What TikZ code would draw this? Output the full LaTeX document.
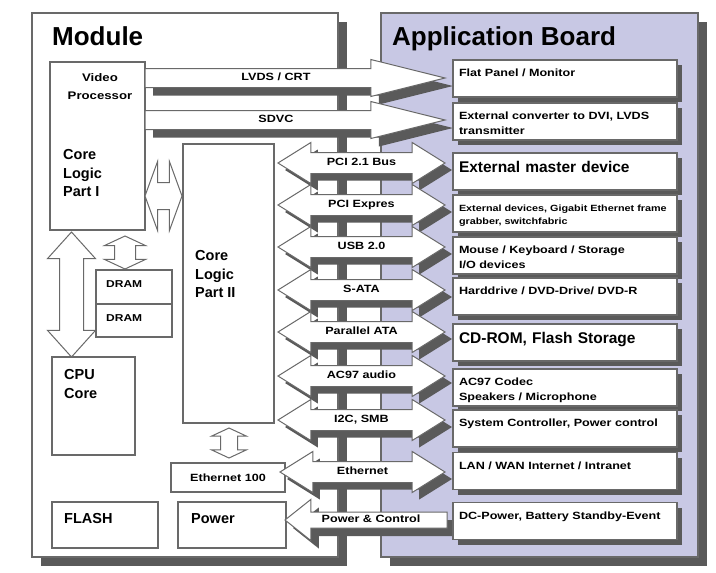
\documentclass[tikz,border=0pt]{standalone}
\usepackage{fontspec}
\setmainfont{Liberation Sans}
\newfontfamily\widesans[FakeStretch=1.2]{Liberation Sans}
\usetikzlibrary{shapes.arrows,shadows}

\definecolor{boxline}{RGB}{105,105,105}
\definecolor{shade}{RGB}{90,90,90}
\definecolor{board}{RGB}{200,200,228}

\tikzset{
  box/.style={draw=boxline, line width=1.5pt, fill=white, inner sep=0pt, outer sep=0pt},
  shadowed/.style={drop shadow={shadow xshift=#1, shadow yshift=-#1, fill=shade, opacity=1}},
  shadowed/.default=6pt,
  title/.style={font=\bfseries\fontsize{26}{30}\selectfont, inner sep=0pt},
  biglbl/.style={font=\bfseries\fontsize{14.5}{18.5}\selectfont, align=left, inner sep=0pt},
  smalllbl/.style={font=\widesans\bfseries\fontsize{10.5}{15}\selectfont},
  appbox/.style={box, shadowed=5pt, minimum width=224pt, text width=212pt, align=left,
    inner xsep=6pt, inner ysep=4.5pt, text height=12pt, text depth=16pt, smalllbl},
  bigapp/.style={appbox, font=\bfseries\fontsize{15.5}{18}\selectfont, text height=14.5pt, text depth=13.5pt},
  link/.style={double arrow, draw=boxline, line width=1pt, fill=white, inner sep=0pt, outer sep=0pt},
  bus/.style={double arrow, draw=boxline, line width=1pt, fill=white, outer sep=0pt,
    inner xsep=2pt, inner ysep=5pt, text height=7.5pt, text depth=2.5pt,
    double arrow head extend=10pt, double arrow tip angle=64, minimum height=167pt,
    smalllbl, shadowed=7pt},
  vid/.style={single arrow, draw=boxline, line width=1pt, fill=white, outer sep=0pt,
    inner xsep=2pt, inner ysep=4pt, text height=7.5pt, text depth=2.5pt,
    single arrow head extend=9pt, single arrow tip angle=28, minimum height=300pt,
    smalllbl, shadowed=8pt}
}

\begin{document}
\begin{tikzpicture}[x=1pt, y=-1pt]
\useasboundingbox (0,0) rectangle (716,573);

% module and application board
\node[box, shadowed=9pt, minimum width=306pt, minimum height=544pt] (module) at (185,285) {};
\node[box, fill=board, shadowed=9pt, minimum width=317pt, minimum height=544pt] (board) at (539.5,285) {};
\node[title, anchor=base west] (modtitle) at (52,45) {Module};
\node[title, anchor=base west] (boardtitle) at (392,45) {Application Board};

% blocks on the module
\node[box, minimum width=95pt, minimum height=168pt] (cl1) at (97.5,146) {};
\node[smalllbl, font=\widesans\bfseries\fontsize{11}{18}\selectfont, align=center, inner sep=0pt, anchor=north] (vp) at (100,73.5) {Video\\Processor};
\node[biglbl, anchor=north west] (cl1lbl) at (63,149.5) {Core\\Logic\\Part I};

\node[box, minimum width=91pt, minimum height=279pt] (cl2) at (228.5,283.5) {};
\node[biglbl, anchor=north west] (cl2lbl) at (195,250.5) {Core\\Logic\\Part II};

\node[box, minimum width=76pt, minimum height=34pt] (dram1) at (134,287) {};
\node[box, minimum width=76pt, minimum height=33pt] (dram2) at (134,320.5) {};
\node[smalllbl, font=\widesans\bfseries\fontsize{10}{12}\selectfont, anchor=west, inner sep=0pt] (dram1lbl) at (106,284) {DRAM};
\node[smalllbl, font=\widesans\bfseries\fontsize{10}{12}\selectfont, anchor=west, inner sep=0pt] (dram2lbl) at (106,318) {DRAM};

\node[box, minimum width=83pt, minimum height=98pt] (cpu) at (93.5,406) {};
\node[biglbl, anchor=north west] (cpulbl) at (64,369.5) {CPU\\Core};

\node[box, minimum width=114pt, minimum height=29pt, smalllbl] (eth) at (228,477.5) {Ethernet 100};

\node[box, minimum width=106pt, minimum height=46pt] (flash) at (105,525) {};
\node[biglbl, anchor=base west] (flashlbl) at (64,523) {FLASH};
\node[box, minimum width=108pt, minimum height=46pt] (power) at (232,525) {};
\node[biglbl, anchor=base west] (powerlbl) at (191,523) {Power};

% links inside the module
\node[link, rotate=90, minimum height=125pt, inner ysep=11.5pt, double arrow head extend=12pt, double arrow tip angle=84] (cpulink) at (71.5,294.5) {};
\node[link, rotate=90, minimum height=33pt, inner ysep=10pt, double arrow head extend=10pt, double arrow tip angle=130] (dramlink) at (125,252.5) {};
\node[link, minimum height=37pt, inner ysep=13pt, double arrow head extend=21pt, double arrow tip angle=140] (cllink) at (163.5,196) {};
\node[link, rotate=90, minimum height=30pt, inner ysep=8pt, double arrow head extend=9pt, double arrow tip angle=130] (ethlink) at (229,443) {};

% video outputs
\node[vid, anchor=tail] (lvds) at (145,78) {LVDS / CRT};
\node[vid, anchor=tail] (sdvc) at (145,120) {SDVC};

% buses
\node[bus] (pci) at (361.5,163) {PCI 2.1 Bus};
\node[bus] (pcie) at (361.5,205) {PCI Expres};
\node[bus] (usb) at (361.5,247) {USB 2.0};
\node[bus] (sata) at (361.5,290) {S-ATA};
\node[bus] (pata) at (361.5,332) {Parallel ATA};
\node[bus] (ac97) at (361.5,376) {AC97 audio};
\node[bus] (i2c) at (361.5,420) {I2C, SMB};
\node[bus, minimum height=165pt] (ethbus) at (362.5,472) {Ethernet};
\node[vid, shape border rotate=180, inner ysep=2.5pt, single arrow head extend=12.5pt, single arrow tip angle=77, minimum height=162pt, anchor=tail] (pwrlink) at (447,520) {Power \& Control};

% devices on the application board
\node[appbox] (flat) at (565,78.5) {Flat Panel / Monitor};
\node[appbox] (conv) at (565,121.5) {External converter to DVI, LVDS\\transmitter};
\node[bigapp] (master) at (565,171.5) {External master device};
\node[appbox, font=\widesans\bfseries\fontsize{9}{13}\selectfont] (extdev) at (565,213.5) {External devices, Gigabit Ethernet frame\\grabber, switchfabric};
\node[appbox] (mouse) at (565,255.5) {Mouse / Keyboard / Storage\\I/O devices};
\node[appbox] (hdd) at (565,296.5) {Harddrive / DVD-Drive/ DVD-R};
\node[bigapp] (cdrom) at (565,342.5) {CD-ROM, Flash Storage};
\node[appbox] (codec) at (565,387.5) {AC97 Codec\\Speakers / Microphone};
\node[appbox] (sysctl) at (565,428.5) {System Controller, Power control};
\node[appbox] (lan) at (565,471) {LAN / WAN Internet / Intranet};
\node[appbox] (dc) at (565,521) {DC-Power, Battery Standby-Event};
\end{tikzpicture}
\end{document}
